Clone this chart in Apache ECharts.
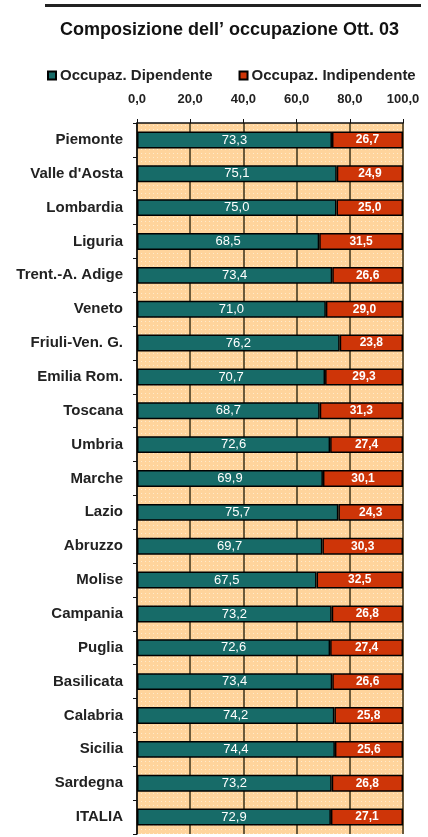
<!DOCTYPE html>
<html>
<head>
<meta charset="utf-8">
<script src="https://cdn.jsdelivr.net/npm/echarts@6/dist/echarts.min.js"></script>
<style>
html,body{margin:0;padding:0;background:#fff;}
#c{width:428px;height:837px;}
</style>
</head>
<body>
<div id="c"></div>
<script>
const categories = ["Piemonte","Valle d'Aosta","Lombardia","Liguria","Trent.-A. Adige","Veneto","Friuli-Ven. G.","Emilia Rom.","Toscana","Umbria","Marche","Lazio","Abruzzo","Molise","Campania","Puglia","Basilicata","Calabria","Sicilia","Sardegna","ITALIA"];
const dipendente = [73.3,75.1,75.0,68.5,73.4,71.0,76.2,70.7,68.7,72.6,69.9,75.7,69.7,67.5,73.2,72.6,73.4,74.2,74.4,73.2,72.9];
const indipendente = [26.7,24.9,25.0,31.5,26.6,29.0,23.8,29.3,31.3,27.4,30.1,24.3,30.3,32.5,26.8,27.4,26.6,25.8,25.6,26.8,27.1];
const seriesNames = ["Occupaz. Dipendente","Occupaz. Indipendente"];
const axisTicks = [0,20,40,60,80,100];

function fmt(v){ return Number(v).toFixed(1).replace('.', ','); }

function makePattern(base, dot){
  const c = document.createElement('canvas');
  c.width = 4; c.height = 4;
  const g = c.getContext('2d');
  g.fillStyle = base; g.fillRect(0,0,4,4);
  g.fillStyle = dot; g.fillRect(1,1,1,1);
  return c;
}

const chart = echarts.init(document.getElementById('c'), null, {renderer:'canvas'});
const font = '"Liberation Sans", Arial, sans-serif';

chart.setOption({
  animation:false,
  backgroundColor:'#ffffff',
  textStyle:{fontFamily:font},
  graphic:[
    {type:'rect', shape:{x:45,y:4,width:376,height:3}, style:{fill:'#222'}}
  ],
  title:{
    text:'Composizione dell\u2019 occupazione Ott. 03',
    left:55, top:16,
    textStyle:{fontFamily:font, fontSize:18, fontWeight:'bold', color:'#111'}
  },
  legend:{
    data:seriesNames,
    left:42, top:63,
    itemWidth:8, itemHeight:8, itemGap:26,
    icon:'rect',
    textStyle:{fontFamily:font, fontSize:15, fontWeight:'bold', color:'#222', padding:[0,0,0,-1]}
  },
  grid:{left:137, right:25, top:123, bottom:3, show:true,
    backgroundColor:{image:makePattern('#FFD49C','#FFEBCB'), repeat:'repeat'},
    borderWidth:0},
  xAxis:{
    type:'value', position:'top', min:0, max:100, interval:20,
    axisLine:{show:true, lineStyle:{color:'#111', width:1.5}},
    axisTick:{show:true, length:4, inside:false, lineStyle:{color:'#111'}},
    axisLabel:{formatter:fmt, fontFamily:font, fontSize:13, fontWeight:'bold', color:'#222', margin:17},
    splitLine:{show:true, lineStyle:{color:'#6B5A3A', width:2}}
  },
  yAxis:{
    type:'category', data:categories, inverse:true,
    axisLine:{show:true, lineStyle:{color:'#111', width:1.5}},
    axisTick:{show:true, length:4, lineStyle:{color:'#111'}},
    axisLabel:{fontFamily:font, fontSize:15, fontWeight:'bold', color:'#222', margin:14}
  },
  series:[
    {name:seriesNames[0], type:'bar', stack:'tot', data:dipendente, barWidth:'50%',
     itemStyle:{color:'#176B68', borderColor:'#000', borderWidth:1.5},
     label:{show:true, position:'inside', formatter:p=>fmt(p.value), color:'#fff', fontFamily:font, fontSize:13}},
    {name:seriesNames[1], type:'bar', stack:'tot', data:indipendente, barWidth:'50%',
     itemStyle:{color:'#CE3508', borderColor:'#000', borderWidth:1.5},
     label:{show:true, position:'inside', formatter:p=>fmt(p.value), color:'#fff', fontFamily:font, fontSize:12, fontWeight:'bold'}}
  ]
});
</script>
</body>
</html>
